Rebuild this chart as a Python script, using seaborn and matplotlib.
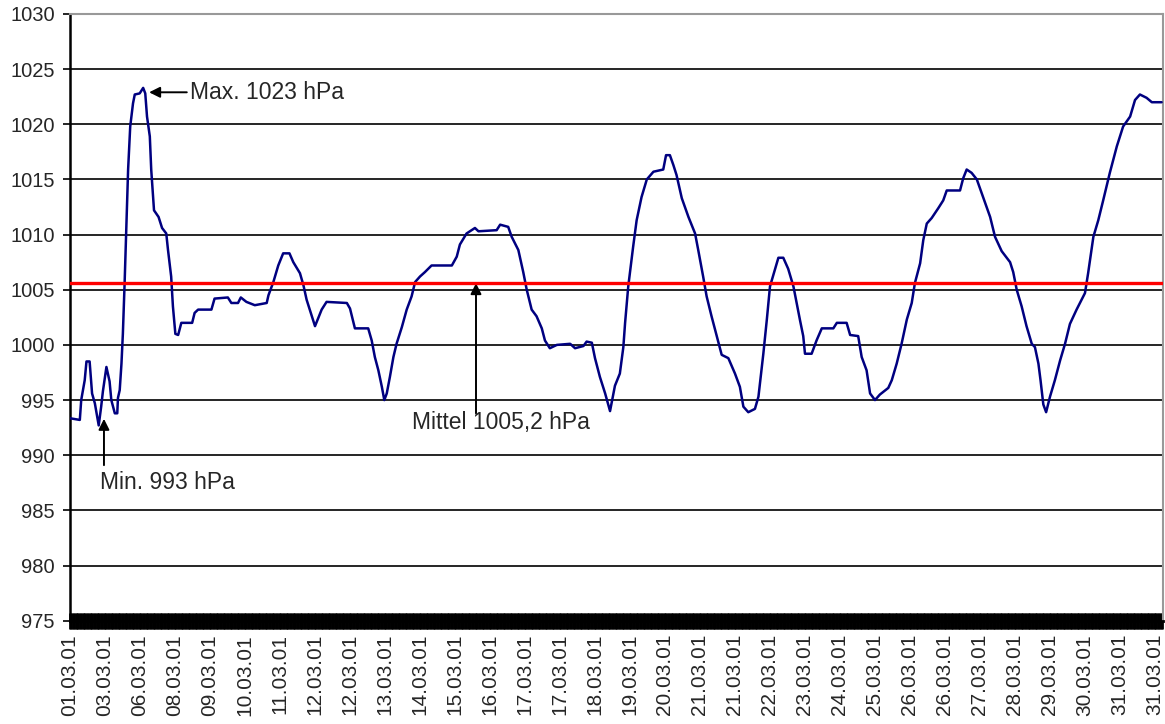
import matplotlib
matplotlib.use("Agg")
import matplotlib.pyplot as plt
from matplotlib.ticker import MultipleLocator
import seaborn as sns

# Luftdruck Maerz 2001
# Position in Abständen der Achsenbeschriftung (0 = 01.03.01)
pos = [0.00, 0.28, 0.32, 0.42, 0.47, 0.56, 0.63, 0.71, 0.82, 0.89, 0.94,
       1.04, 1.13, 1.18, 1.28, 1.35, 1.37, 1.42, 1.47, 1.51, 1.56, 1.61,
       1.66, 1.72, 1.80, 1.85, 1.99, 2.09, 2.15, 2.20, 2.28, 2.32, 2.40,
       2.53, 2.63, 2.75, 2.80, 2.89, 2.94, 3.01, 3.09, 3.18, 3.49, 3.56,
       3.66, 4.04, 4.13, 4.51, 4.61, 4.80, 4.88, 5.04, 5.28, 5.62, 5.67,
       5.81, 5.95, 6.09, 6.27, 6.38, 6.57, 6.67, 6.76, 6.91, 7.00, 7.09,
       7.19, 7.33, 7.91, 8.00, 8.14, 8.52, 8.62, 8.71, 8.81, 8.91, 8.98,
       9.05, 9.14, 9.24, 9.33, 9.48, 9.62, 9.76, 9.86, 10.00, 10.14, 10.33,
       10.91, 11.05, 11.14, 11.33, 11.57, 11.67, 12.19, 12.29, 12.52, 12.62,
       12.81, 12.95, 13.05, 13.19, 13.33, 13.48, 13.57, 13.71, 13.91, 14.29,
       14.43, 14.67, 14.76, 14.91, 15.00, 15.14, 15.29, 15.43, 15.57, 15.71,
       15.81, 15.86, 15.95, 16.09, 16.19, 16.33, 16.48, 16.67, 16.95, 17.03,
       17.14, 17.24, 17.33, 17.48, 17.67, 17.86, 17.95, 18.09, 18.19, 18.33,
       18.48, 18.62, 18.81, 19.00, 19.14, 19.24, 19.38, 19.57, 19.67, 19.81,
       19.91, 20.00, 20.14, 20.24, 20.38, 20.52, 20.67, 20.86, 20.95, 21.00,
       21.19, 21.33, 21.48, 21.81, 21.91, 22.19, 22.29, 22.52, 22.62, 22.76,
       22.86, 23.00, 23.14, 23.38, 23.48, 23.62, 23.76, 23.91, 24.05, 24.14,
       24.29, 24.38, 24.48, 24.62, 24.81, 24.95, 25.05, 25.43, 25.52, 25.62,
       25.76, 25.91, 26.09, 26.29, 26.43, 26.62, 26.86, 26.95, 27.05, 27.19,
       27.33, 27.48, 27.57, 27.67, 27.73, 27.81, 27.89, 28.00, 28.14, 28.29,
       28.43, 28.57, 28.76, 29.00, 29.09, 29.24, 29.38, 29.52, 29.71, 29.91,
       30.09, 30.29, 30.43, 30.57, 30.76, 30.91, 31.19]
druck = [993.35, 993.2, 995.0, 996.8, 998.5, 998.5, 995.6, 994.7, 992.7, 994.4, 995.8,
         998.0, 996.7, 995.0, 993.8, 993.8, 995.2, 995.9, 998.3, 1001.0, 1005.6, 1010.7,
         1015.9, 1019.8, 1021.9, 1022.7, 1022.8, 1023.3, 1022.8, 1020.7, 1018.9, 1015.9, 1012.2,
         1011.6, 1010.6, 1010.1, 1008.6, 1006.2, 1003.5, 1001.0, 1000.9, 1002.0, 1002.0, 1002.9,
         1003.2, 1003.2, 1004.2, 1004.3, 1003.8, 1003.8, 1004.3, 1003.9, 1003.6, 1003.8, 1004.5,
         1005.7, 1007.2, 1008.3, 1008.3, 1007.5, 1006.5, 1005.4, 1004.1, 1002.6, 1001.7, 1002.4,
         1003.2, 1003.9, 1003.8, 1003.3, 1001.5, 1001.5, 1000.4, 998.9, 997.7, 996.2, 995.0,
         995.6, 997.1, 998.9, 1000.1, 1001.6, 1003.2, 1004.4, 1005.7, 1006.2, 1006.6, 1007.2,
         1007.2, 1008.0, 1009.1, 1010.1, 1010.6, 1010.3, 1010.4, 1010.9, 1010.7, 1009.8,
         1008.6, 1006.6, 1005.0, 1003.2, 1002.6, 1001.5, 1000.4, 999.7, 1000.0, 1000.1,
         999.7, 999.9, 1000.3, 1000.2, 998.8, 997.1, 995.6, 994.0, 996.3, 997.4,
         999.8, 1002.0, 1005.3, 1008.9, 1011.3, 1013.4, 1015.0, 1015.7, 1015.9, 1017.2,
         1017.2, 1016.3, 1015.4, 1013.3, 1011.6, 1010.1, 1008.6, 1006.2, 1004.4, 1002.6,
         1000.8, 999.1, 998.8, 997.4, 996.2, 994.4, 993.9, 994.2, 995.3, 999.2,
         1002.3, 1005.3, 1006.8, 1007.9, 1007.9, 1006.9, 1005.3, 1002.2, 1000.8, 999.2,
         999.2, 1000.4, 1001.5, 1001.5, 1002.0, 1002.0, 1000.9, 1000.8, 998.9, 997.7,
         995.6, 995.0, 995.5, 996.1, 996.8, 998.3, 1000.1, 1002.3, 1003.8, 1005.6,
         1007.4, 1009.5, 1011.0, 1011.5, 1012.4, 1013.1, 1014.0, 1014.0, 1015.1, 1015.9,
         1015.6, 1015.0, 1013.4, 1011.6, 1009.8, 1008.5, 1007.5, 1006.6, 1005.0, 1003.5,
         1001.7, 1000.1, 999.8, 998.3, 996.8, 994.6, 993.9, 995.3, 996.8, 998.6,
         1000.1, 1001.9, 1003.2, 1004.7, 1006.5, 1009.8, 1011.3, 1013.1, 1015.6, 1018.0,
         1019.8, 1020.7, 1022.2, 1022.7, 1022.4, 1022.0, 1022.0]

datum_labels = ["01.03.01", "03.03.01", "06.03.01", "08.03.01", "09.03.01", "10.03.01",
                "11.03.01", "12.03.01", "12.03.01", "13.03.01", "14.03.01", "15.03.01",
                "16.03.01", "17.03.01", "17.03.01", "18.03.01", "19.03.01", "20.03.01",
                "21.03.01", "21.03.01", "22.03.01", "23.03.01", "24.03.01", "25.03.01",
                "26.03.01", "26.03.01", "27.03.01", "28.03.01", "29.03.01", "30.03.01",
                "31.03.01", "31.03.01"]

mittel_linie = 1005.65
y_ticks = list(range(975, 1031, 5))


def main():
    sns.set_style("white")
    plt.rcParams['font.family'] = ['Liberation Sans', 'DejaVu Sans']

    fig = plt.figure(figsize=(11.65, 7.24), dpi=100)
    ax = fig.add_axes([0.0601, 0.1427, 0.9382, 0.838])

    ax.set_axisbelow(True)
    ax.yaxis.grid(True, color='black', lw=1.2)
    ax.xaxis.grid(False)

    sns.lineplot(x=pos, y=druck, color='#000080', linewidth=1.8, estimator=None,
                 sort=False, ax=ax, zorder=3)
    ax.axhline(mittel_linie, color='#ff0000', lw=2.4, zorder=4)

    ax.set_xlim(0, 31.23)
    ax.set_ylim(975, 1030)
    ax.set_yticks(y_ticks)
    ax.set_yticklabels([str(v) for v in y_ticks], fontsize=14.5)
    ax.set_xticks(range(len(datum_labels)))
    ax.set_xticklabels(datum_labels, rotation=90, fontsize=15)
    # dichte Kategorie-Striche wie im Original -> schwarzer Balken
    ax.xaxis.set_minor_locator(MultipleLocator(0.04))
    ax.tick_params(axis='x', which='both', direction='inout', length=11, width=2,
                   color='black', pad=4, bottom=True)
    ax.tick_params(axis='y', direction='out', length=5, width=1.2, color='black',
                   pad=6, left=True)

    for side in ['top', 'right']:
        ax.spines[side].set_color('#999999')
        ax.spines[side].set_linewidth(1.5)
    ax.spines['left'].set_color('black')
    ax.spines['left'].set_linewidth(1.8)
    ax.spines['bottom'].set_color('black')
    ax.spines['bottom'].set_linewidth(2)

    arrow = dict(arrowstyle='-|>', color='black', lw=1.4, mutation_scale=16,
                 shrinkA=0, shrinkB=0)
    ax.annotate('Max. 1023 hPa', xy=(2.26, 1022.9), xytext=(3.43, 1022.9),
                fontsize=16.5, va='center', ha='left',
                arrowprops=dict(arrow, relpos=(0, 0.5)))
    ax.annotate('', xy=(0.97, 993.3), xytext=(0.97, 989.1), arrowprops=arrow)
    ax.text(0.86, 987.5, 'Min. 993 hPa', fontsize=16.5, va='center', ha='left')
    ax.annotate('', xy=(11.6, 1005.6), xytext=(11.6, 993.8), arrowprops=arrow)
    ax.text(9.77, 993.0, 'Mittel 1005,2 hPa', fontsize=16.5, va='center', ha='left')

    plt.savefig("out.png", dpi=100)
    plt.close(fig)


if __name__ == '__main__':
    main()
